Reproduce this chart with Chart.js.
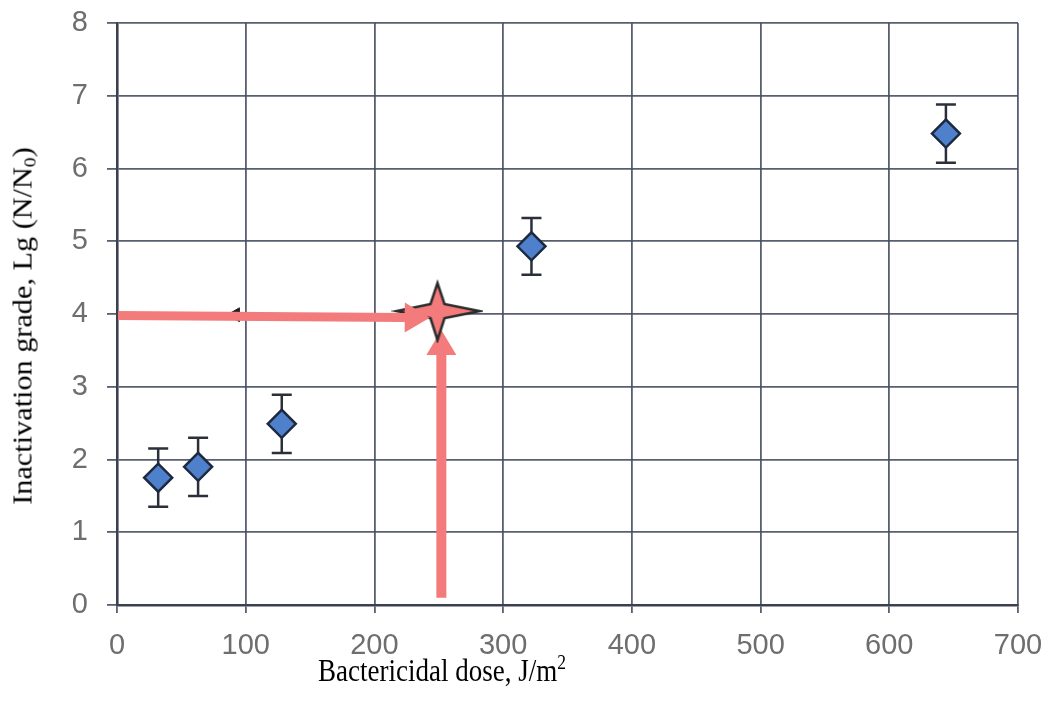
<!DOCTYPE html>
<html>
<head>
<meta charset="utf-8">
<script src="https://cdn.jsdelivr.net/npm/chart.js@4.4.1/dist/chart.umd.min.js"></script>
<style>
  html, body { margin: 0; padding: 0; background: #fff; overflow: hidden; }
  #wrap { position: relative; width: 1053px; height: 704px; overflow: hidden; }
  #c { position: absolute; left: 0; top: -8px; }
  .ttl { position: absolute; font-family: "Liberation Serif", "Times New Roman", serif; color: #000; white-space: nowrap; font-size: 27px; line-height: 27px; }
  #ytitle { left: 23px; top: 326px; transform: translate(-50%, -50%) rotate(-90deg) scaleX(1.12); transform-origin: center; }
  #xtitle { left: 318px; top: 657px; transform: scaleY(1.18); transform-origin: left center; }
  sub { font-size: 0.65em; vertical-align: -0.25em; line-height: 0; }
  sup { font-size: 0.65em; vertical-align: 0.55em; line-height: 0; }
</style>
</head>
<body>
<div id="wrap">
  <canvas id="c" width="1053" height="712"></canvas>
  <div class="ttl" id="ytitle">Inactivation grade, Lg (N/N<sub>0</sub>)</div>
  <div class="ttl" id="xtitle">Bactericidal dose, J/m<sup>2</sup></div>
</div>
<script>
// ---- data ----
const doses  = [32, 63, 128, 322, 644];
const grades = [1.75, 1.9, 2.49, 4.93, 6.48];
const errors = [0.4, 0.4, 0.4, 0.39, 0.4];

const targetDose  = [249];
const targetGrade = [4.04];

const hiddenDose  = [92];
const hiddenGrade = [3.99];

const hArrowX = [0, 243];
const hArrowY = [3.98, 3.95];
const vArrowX = [252, 252];
const vArrowY = [0.1, 3.78];

const xTickValues = [0, 100, 200, 300, 400, 500, 600, 700];
const yTickValues = [0, 1, 2, 3, 4, 5, 6, 7, 8];

// ---- styles ----
const GRID = 'rgba(70,78,96,0.9)';
const ARROW = '#f37b7b';
const TICKCOL = '#6e6e6e';

// star point style image
function makeStar() {
  const cv = document.createElement('canvas');
  cv.width = 92; cv.height = 64;
  const g = cv.getContext('2d');
  const cx = 46, cy = 32;
  const up = 28, down = 29, left = 41, right = 42, inner = 7;
  g.beginPath();
  g.moveTo(cx, cy - up);
  g.lineTo(cx + inner, cy - inner);
  g.lineTo(cx + right, cy);
  g.lineTo(cx + inner, cy + inner);
  g.lineTo(cx, cy + down);
  g.lineTo(cx - inner, cy + inner);
  g.lineTo(cx - left, cy);
  g.lineTo(cx - inner, cy - inner);
  g.closePath();
  g.fillStyle = ARROW;
  g.fill();
  g.lineWidth = 2.5;
  g.strokeStyle = '#2a2a2a';
  g.lineJoin = 'miter';
  g.stroke();
  return cv;
}
const starImg = makeStar();

function drawArrow(ctx, x0, y0, x1, y1, headLen, headHalf, shaft) {
  const dx = x1 - x0, dy = y1 - y0;
  const L = Math.hypot(dx, dy);
  const ux = dx / L, uy = dy / L;
  const px = -uy, py = ux;
  const bx = x1 - ux * headLen, by = y1 - uy * headLen;
  ctx.save();
  ctx.strokeStyle = ARROW;
  ctx.fillStyle = ARROW;
  ctx.lineWidth = shaft;
  ctx.lineCap = 'butt';
  ctx.beginPath();
  ctx.moveTo(x0, y0);
  ctx.lineTo(bx + ux * 1, by + uy * 1);
  ctx.stroke();
  ctx.beginPath();
  ctx.moveTo(x1, y1);
  ctx.lineTo(bx + px * headHalf, by + py * headHalf);
  ctx.lineTo(bx - px * headHalf, by - py * headHalf);
  ctx.closePath();
  ctx.fill();
  ctx.restore();
}

const overlay = {
  id: 'overlay',
  beforeDatasetsDraw(chart) {
    const ctx = chart.ctx, xs = chart.scales.x, ys = chart.scales.y;
    // vertical arrow (under the star)
    drawArrow(ctx,
      xs.getPixelForValue(vArrowX[0]), ys.getPixelForValue(vArrowY[0]),
      xs.getPixelForValue(vArrowX[1]), ys.getPixelForValue(vArrowY[1]),
      25, 15, 10);
    // error bars
    ctx.save();
    ctx.strokeStyle = '#2b2f3a';
    ctx.lineWidth = 2.5;
    for (let i = 0; i < doses.length; i++) {
      const x = xs.getPixelForValue(doses[i]);
      const yt = ys.getPixelForValue(grades[i] + errors[i]);
      const yb = ys.getPixelForValue(grades[i] - errors[i]);
      ctx.beginPath();
      ctx.moveTo(x, yt); ctx.lineTo(x, yb);
      ctx.moveTo(x - 10, yt); ctx.lineTo(x + 10, yt);
      ctx.moveTo(x - 10, yb); ctx.lineTo(x + 10, yb);
      ctx.stroke();
    }
    ctx.restore();
  },
  afterDatasetsDraw(chart) {
    const ctx = chart.ctx, xs = chart.scales.x, ys = chart.scales.y;
    drawArrow(ctx,
      xs.getPixelForValue(hArrowX[0]) + 1, ys.getPixelForValue(hArrowY[0]),
      xs.getPixelForValue(hArrowX[1]), ys.getPixelForValue(hArrowY[1]),
      25, 15, 9);
  }
};

const tickFont = { family: '"Liberation Sans", Arial, sans-serif', size: 29 };

new Chart(document.getElementById('c'), {
  type: 'scatter',
  data: {
    datasets: [
      {
        label: 'hidden',
        data: hiddenDose.map((x, i) => ({ x, y: hiddenGrade[i] })),
        pointStyle: 'triangle',
        rotation: -90,
        radius: 8,
        backgroundColor: '#222',
        borderColor: '#222',
        borderWidth: 1
      },
      {
        label: 'Inactivation',
        data: doses.map((x, i) => ({ x, y: grades[i] })),
        pointStyle: 'rectRot',
        radius: 14,
        backgroundColor: '#4f80cc',
        borderColor: '#1d2940',
        borderWidth: 2.5
      },
      {
        label: 'Target',
        data: targetDose.map((x, i) => ({ x, y: targetGrade[i] })),
        pointStyle: starImg,
        radius: 30
      }
    ]
  },
  options: {
    responsive: false,
    animation: false,
    events: [],
    layout: { padding: { top: 15, right: 35, left: 0, bottom: 0 } },
    plugins: { legend: { display: false }, tooltip: { enabled: false } },
    scales: {
      x: {
        type: 'linear',
        min: 0, max: 700,
        afterBuildTicks: s => { s.ticks = xTickValues.map(v => ({ value: v })); },
        afterFit: s => { s.height = 99; s.paddingLeft = 0; s.paddingRight = 0; },
        grid: { color: GRID, lineWidth: 1.8, tickLength: 8, drawTicks: true, tickColor: GRID },
        border: { color: '#3a404c', width: 2.6 },
        ticks: { font: tickFont, color: TICKCOL, padding: 16, maxRotation: 0 }
      },
      y: {
        type: 'linear',
        min: 0, max: 8,
        afterBuildTicks: s => { s.ticks = yTickValues.map(v => ({ value: v })); },
        afterFit: s => { s.width = 117; s.paddingTop = 0; s.paddingBottom = 0; },
        grid: { color: GRID, lineWidth: 1.8, tickLength: 10, drawTicks: true, tickColor: GRID },
        border: { color: '#3a404c', width: 2.6 },
        ticks: { font: tickFont, color: TICKCOL, padding: 19 }
      }
    }
  },
  plugins: [overlay]
});
</script>
</body>
</html>
